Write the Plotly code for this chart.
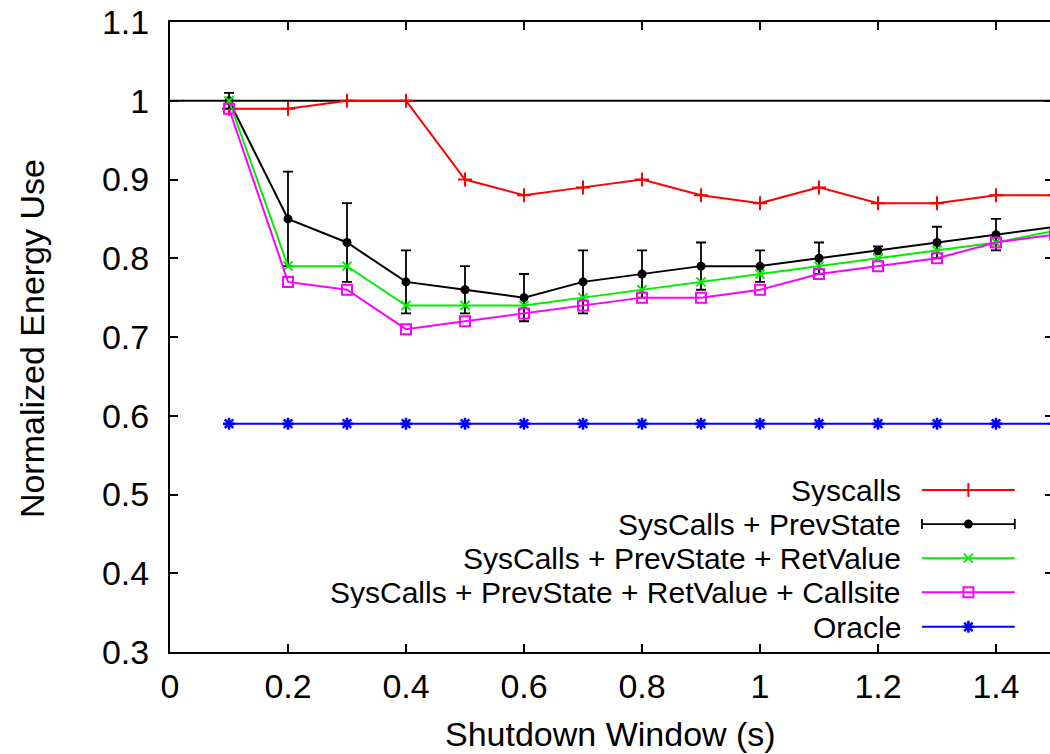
import plotly.graph_objects as go

# ---------------- data ----------------
shutdown_window = [0.1, 0.2, 0.3, 0.4, 0.5, 0.6, 0.7, 0.8, 0.9, 1.0, 1.1, 1.2, 1.3, 1.4, 1.5]
syscalls = [0.99, 0.99, 1.00, 1.00, 0.90, 0.88, 0.89, 0.90, 0.88, 0.87, 0.89, 0.87, 0.87, 0.88, 0.88]
prevstate = [1.00, 0.85, 0.82, 0.77, 0.76, 0.75, 0.77, 0.78, 0.79, 0.79, 0.80, 0.81, 0.82, 0.83, 0.84]
prevstate_err = [0.01, 0.06, 0.05, 0.04, 0.03, 0.03, 0.04, 0.03, 0.03, 0.02, 0.02, 0.005, 0.02, 0.02, 0.02]
retvalue = [1.00, 0.79, 0.79, 0.74, 0.74, 0.74, 0.75, 0.76, 0.77, 0.78, 0.79, 0.80, 0.81, 0.82, 0.835]
callsite = [0.99, 0.77, 0.76, 0.71, 0.72, 0.73, 0.74, 0.75, 0.75, 0.76, 0.78, 0.79, 0.80, 0.82, 0.83]
oracle = [0.59, 0.59, 0.59, 0.59, 0.59, 0.59, 0.59, 0.59, 0.59, 0.59, 0.59, 0.59, 0.59, 0.59, 0.59]

series_names = ["Syscalls", "SysCalls + PrevState", "SysCalls + PrevState + RetValue",
                "SysCalls + PrevState + RetValue + Callsite", "Oracle"]
x_ticks = [0, 0.2, 0.4, 0.6, 0.8, 1.0, 1.2, 1.4]
x_tick_labels = ["0", "0.2", "0.4", "0.6", "0.8", "1", "1.2", "1.4"]
y_ticks = [0.3, 0.4, 0.5, 0.6, 0.7, 0.8, 0.9, 1.0, 1.1]
y_tick_labels = ["0.3", "0.4", "0.5", "0.6", "0.7", "0.8", "0.9", "1", "1.1"]
reference_level = 1.0

# ---------------- styles ----------------
FONT = "Liberation Sans, Arial, Helvetica, sans-serif"
FS = 34
LEG_FS = 30
styles = [
    dict(color="#ff0000", symbol="cross-thin-open", size=10, mlw=2),
    dict(color="#000000", symbol="circle", size=9, mlw=0),
    dict(color="#00ee00", symbol="x-thin-open", size=9, mlw=2),
    dict(color="#ff00ff", symbol="square-open", size=10, mlw=2),
    dict(color="#0000ff", symbol="asterisk-open", size=10, mlw=2.5),
]
series = [syscalls, prevstate, retvalue, callsite, oracle]

fig = go.Figure()

for i, (name, vals, st) in enumerate(zip(series_names, series, styles)):
    kw = {}
    if i == 1:
        kw["error_y"] = dict(type="data", array=prevstate_err, visible=True,
                             color="#000000", thickness=1.8, width=5)
    fig.add_trace(go.Scatter(
        x=shutdown_window, y=vals, name=name, mode="lines+markers",
        line=dict(color=st["color"], width=2),
        marker=dict(symbol=st["symbol"], size=st["size"], color=st["color"],
                    line=dict(color=st["color"], width=st["mlw"])),
        showlegend=False, cliponaxis=True, **kw))

# ---- gnuplot-style legend (text on the left, sample on the right) ----
leg_x0, leg_x1 = 0.8545, 0.960
leg_xm = (leg_x0 + leg_x1) / 2
leg_rows = [0.257, 0.203, 0.149, 0.095, 0.040]
leg_text_x = 0.8318
for i, (name, st, ry) in enumerate(zip(series_names, styles, leg_rows)):
    if i == 1:
        fig.add_trace(go.Scatter(
            x=[leg_xm], y=[ry], xaxis="x2", yaxis="y2", mode="markers",
            marker=dict(symbol="circle", size=9, color="#000000"),
            error_x=dict(type="constant", value=leg_xm - leg_x0, color="#000000",
                         thickness=1.8, width=5),
            showlegend=False, hoverinfo="skip"))
    else:
        fig.add_trace(go.Scatter(
            x=[leg_x0, leg_x1], y=[ry, ry], xaxis="x2", yaxis="y2", mode="lines",
            line=dict(color=st["color"], width=2), showlegend=False, hoverinfo="skip"))
        fig.add_trace(go.Scatter(
            x=[leg_xm], y=[ry], xaxis="x2", yaxis="y2", mode="markers",
            marker=dict(symbol=st["symbol"], size=st["size"], color=st["color"],
                        line=dict(color=st["color"], width=st["mlw"])),
            showlegend=False, hoverinfo="skip"))
    fig.add_annotation(x=leg_text_x, y=ry, xref="paper", yref="paper", text=name,
                       showarrow=False, xanchor="right", yanchor="middle",
                       height=32, valign="middle", borderpad=0,
                       font=dict(family=FONT, size=LEG_FS, color="#000000"))

# empty trace to activate right-hand tick axis
fig.add_trace(go.Scatter(x=[], y=[], xaxis="x", yaxis="y3", showlegend=False))

# reference line at 1
fig.add_shape(type="line", xref="paper", yref="y", x0=0, x1=1,
              y0=reference_level, y1=reference_level,
              line=dict(color="#000000", width=1.8), layer="below")

axis_common = dict(showgrid=False, zeroline=False, ticks="inside", ticklen=8,
                   tickwidth=1.8, tickcolor="#000000", linecolor="#000000", linewidth=2,
                   tickfont=dict(family=FONT, size=FS, color="#000000"))

fig.update_layout(
    width=1050, height=754,
    margin=dict(l=170, r=0, t=22, b=102),
    plot_bgcolor="white", paper_bgcolor="white",
    showlegend=False,
    xaxis=dict(range=[0, 1.4915], tickvals=x_ticks, ticktext=x_tick_labels,
               showline=True, mirror="ticks", ticklabelstandoff=3, **axis_common),
    yaxis=dict(range=[0.3, 1.1], tickvals=y_ticks, ticktext=y_tick_labels,
               showline=True, mirror=False, ticklabelstandoff=12, **axis_common),
    xaxis2=dict(overlaying="x", range=[0, 1], visible=False),
    yaxis2=dict(overlaying="y", range=[0, 1], visible=False),
    yaxis3=dict(overlaying="y", side="right", range=[0.3, 1.1], tickvals=y_ticks,
                showticklabels=False, showline=False, showgrid=False, zeroline=False,
                ticks="inside", ticklen=5, tickwidth=1.8, tickcolor="#000000"),
)

fig.add_annotation(x=-0.157, y=0.498, xref="paper", yref="paper", text="Normalized Energy Use",
                   textangle=-90, showarrow=False, xanchor="center", yanchor="middle",
                   font=dict(family=FONT, size=FS, color="#000000"))
fig.add_annotation(x=0.5, y=-0.162, xref="paper", yref="paper", text="Shutdown Window (s)",
                   showarrow=False, xanchor="center", yanchor="bottom", borderpad=0,
                   font=dict(family=FONT, size=FS, color="#000000"))

fig.write_html("out.html")
